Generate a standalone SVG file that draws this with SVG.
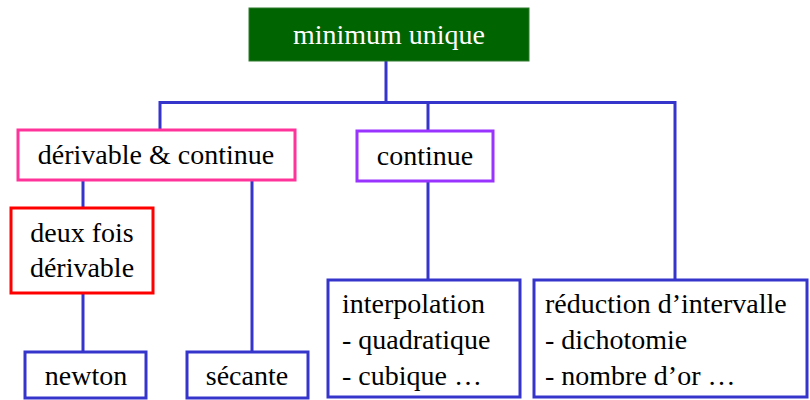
<svg xmlns="http://www.w3.org/2000/svg" width="810" height="400" viewBox="0 0 810 400">
<style>
.box{fill:#fff;stroke-width:3}
.blue{stroke:#3535cc}
.c{text-anchor:middle}
#connectors path{fill:none;stroke:#3535cc;stroke-width:3}
</style>
<rect width="810" height="400" fill="#fff"/>
<g id="connectors">
<path d="M386 61V102.5M160 130V102.5H675V280M428 102.5V131"/>
<path d="M83 180V208M83 293V352M252 180V352M428 181V280"/>
</g>
<g font-family="Liberation Serif, Times New Roman, serif" font-size="28" fill="#000">
<g id="n-minimum">
<rect x="249" y="8" width="280" height="53" fill="#006400" stroke="#2e7d2e" stroke-width="1"/>
<text x="389" y="44" class="c" fill="#fff">minimum unique</text>
</g>
<g id="n-derivable">
<rect class="box" x="18" y="130" width="277" height="50" stroke="#ff3399"/>
<text x="156" y="164" class="c">dérivable &amp; continue</text>
</g>
<g id="n-continue">
<rect class="box" x="357" y="131" width="136" height="50" stroke="#9933ff"/>
<text x="425" y="165" class="c">continue</text>
</g>
<g id="n-deuxfois">
<rect class="box" x="11" y="208" width="142" height="85" stroke="#ff0000"/>
<text x="82" y="242" class="c">deux fois</text>
<text x="82" y="277" class="c">dérivable</text>
</g>
<g id="n-newton">
<rect class="box blue" x="25" y="352" width="121" height="46"/>
<text x="86" y="385" class="c">newton</text>
</g>
<g id="n-secante">
<rect class="box blue" x="187" y="352" width="121" height="46"/>
<text x="247" y="385" class="c">sécante</text>
</g>
<g id="n-interpolation">
<rect class="box blue" x="328" y="280" width="192" height="117"/>
<text x="342" y="313">interpolation</text>
<text x="342" y="349">- quadratique</text>
<text x="342" y="385">- cubique …</text>
</g>
<g id="n-reduction">
<rect class="box blue" x="534" y="280" width="273" height="117"/>
<text x="545" y="313">réduction d’intervalle</text>
<text x="545" y="349">- dichotomie</text>
<text x="545" y="385">- nombre d’or …</text>
</g>
</g>
</svg>
